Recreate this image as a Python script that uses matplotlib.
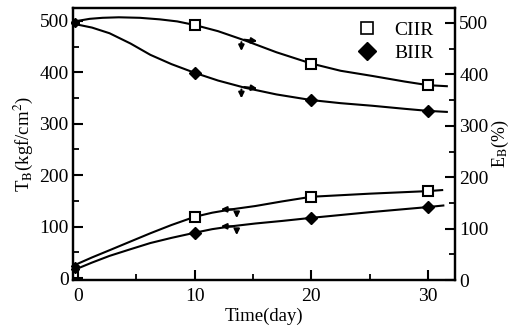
import matplotlib
matplotlib.use("Agg")
import matplotlib.pyplot as plt
from matplotlib.ticker import MultipleLocator
from matplotlib.lines import Line2D

plt.rcParams['font.family'] = ['Liberation Serif', 'DejaVu Serif']
plt.rcParams['mathtext.fontset'] = 'stix'

# Marker (measured) points
days = [10, 20, 30]
ciir_eb = [496, 421, 379]
biir_eb = [403, 350, 329]
ciir_tb = [119, 158, 169]
biir_tb = [88, 117, 138]
# initial values (day 0), drawn as filled blobs on the axis
day0 = [-0.25, -0.25]
start_eb = [502, 499]
start_tb = [24, 18]

# Curve traces
ciir_eb_x = [-0.3, 1.0, 2.1, 3.5, 5.3, 7.0, 8.5, 10, 12, 14.3, 17, 20, 22.5, 25.2, 28, 30, 31.6]
ciir_eb_y = [503, 508, 510, 511, 510, 507, 503, 496, 484, 466, 443, 421, 407, 397, 386, 379, 377]
biir_eb_x = [-0.3, 1.2, 2.7, 4.5, 6.2, 8.0, 10, 12, 14.3, 17, 20, 22.5, 25.2, 28, 30, 31.6]
biir_eb_y = [498, 491, 480, 460, 438, 420, 403, 388, 374, 361, 350, 344, 339, 333, 329, 327]
ciir_tb_x = [-0.3, 1.2, 2.7, 4.5, 6.2, 8.0, 10, 11.5, 13.3, 15.2, 17.5, 20, 25, 30, 31.2]
ciir_tb_y = [25, 40, 54, 71, 87, 103, 119, 127, 134, 140, 149, 158, 164, 169, 171]
biir_tb_x = [-0.3, 1.2, 2.7, 4.5, 6.2, 8.0, 10, 11.5, 13.3, 15.2, 17.5, 20, 25, 30, 31.3]
biir_tb_y = [16, 30, 43, 56, 68, 78, 88, 95, 101, 106, 111, 117, 128, 138, 141]

fig = plt.figure(figsize=(5.15, 3.35), dpi=100)
ax = fig.add_axes([0.1417, 0.164, 0.7418, 0.812])
ax2 = ax.twinx()

lw = 1.5
ax2.plot(ciir_eb_x, ciir_eb_y, color='black', lw=lw)
ax2.plot(biir_eb_x, biir_eb_y, color='black', lw=lw)
ax.plot(ciir_tb_x, ciir_tb_y, color='black', lw=lw)
ax.plot(biir_tb_x, biir_tb_y, color='black', lw=lw)

ax2.plot(days, ciir_eb, ls='none', marker='s', ms=6.5, mfc='white', mec='black', mew=1.5)
ax2.plot(days, biir_eb, ls='none', marker='D', ms=6, color='black')
ax.plot(days, ciir_tb, ls='none', marker='s', ms=6.5, mfc='white', mec='black', mew=1.5)
ax.plot(days, biir_tb, ls='none', marker='D', ms=6, color='black')
ax2.plot(day0, start_eb, ls='none', marker='D', ms=4.5, color='black', clip_on=False)
ax.plot(day0, start_tb, ls='none', marker='D', ms=4.5, color='black', clip_on=False)

# axis-indicator arrows
akw = dict(arrowstyle='-|>', color='black', lw=1.5, mutation_scale=8)
for yv in (466, 374):
    ax2.annotate('', xy=(15.6, yv - 2), xytext=(14.0, yv + 2), arrowprops=akw)
    ax2.annotate('', xy=(14.0, yv - 26), xytext=(14.0, yv + 2), arrowprops=akw)
for yv in (135, 102):
    ax.annotate('', xy=(12.0, yv - 1), xytext=(13.6, yv - 2), arrowprops=akw)
    ax.annotate('', xy=(13.6, yv - 24), xytext=(13.6, yv - 2), arrowprops=akw)

ax.set_xlim(-0.43, 32.3)
ax.set_ylim(-4, 525)
ax2.set_ylim(0, 529)

ax.xaxis.set_major_locator(MultipleLocator(10))
ax.xaxis.set_minor_locator(MultipleLocator(5))
ax.yaxis.set_major_locator(MultipleLocator(100))
ax.yaxis.set_minor_locator(MultipleLocator(50))
ax2.yaxis.set_major_locator(MultipleLocator(100))
ax2.yaxis.set_minor_locator(MultipleLocator(50))

for a in (ax, ax2):
    a.tick_params(which='major', direction='in', length=7, width=1.5, labelsize=14, pad=3)
    a.tick_params(which='minor', direction='in', length=4, width=1.3)
    for s in a.spines.values():
        s.set_linewidth(1.6)
ax.tick_params(axis='x', pad=6)

ax.set_xlabel('Time(day)', fontsize=13.5, labelpad=2)
ax.set_ylabel('T$_\\mathrm{B}$(kgf/cm$^2$)', fontsize=13.5, labelpad=3)
ax2.set_ylabel('E$_\\mathrm{B}$(%)', fontsize=13, labelpad=1)

handles = [Line2D([], [], ls='none', marker='s', ms=9, mfc='white', mec='black', mew=1.2),
           Line2D([], [], ls='none', marker='D', ms=9, color='black')]
ax.legend(handles, ['CIIR', 'BIIR'], loc='upper right', frameon=False, fontsize=14,
          handletextpad=0.4, labelspacing=0.25, borderaxespad=0.3, bbox_to_anchor=(0.98, 1.0))

fig.savefig('out.png', dpi=100)
